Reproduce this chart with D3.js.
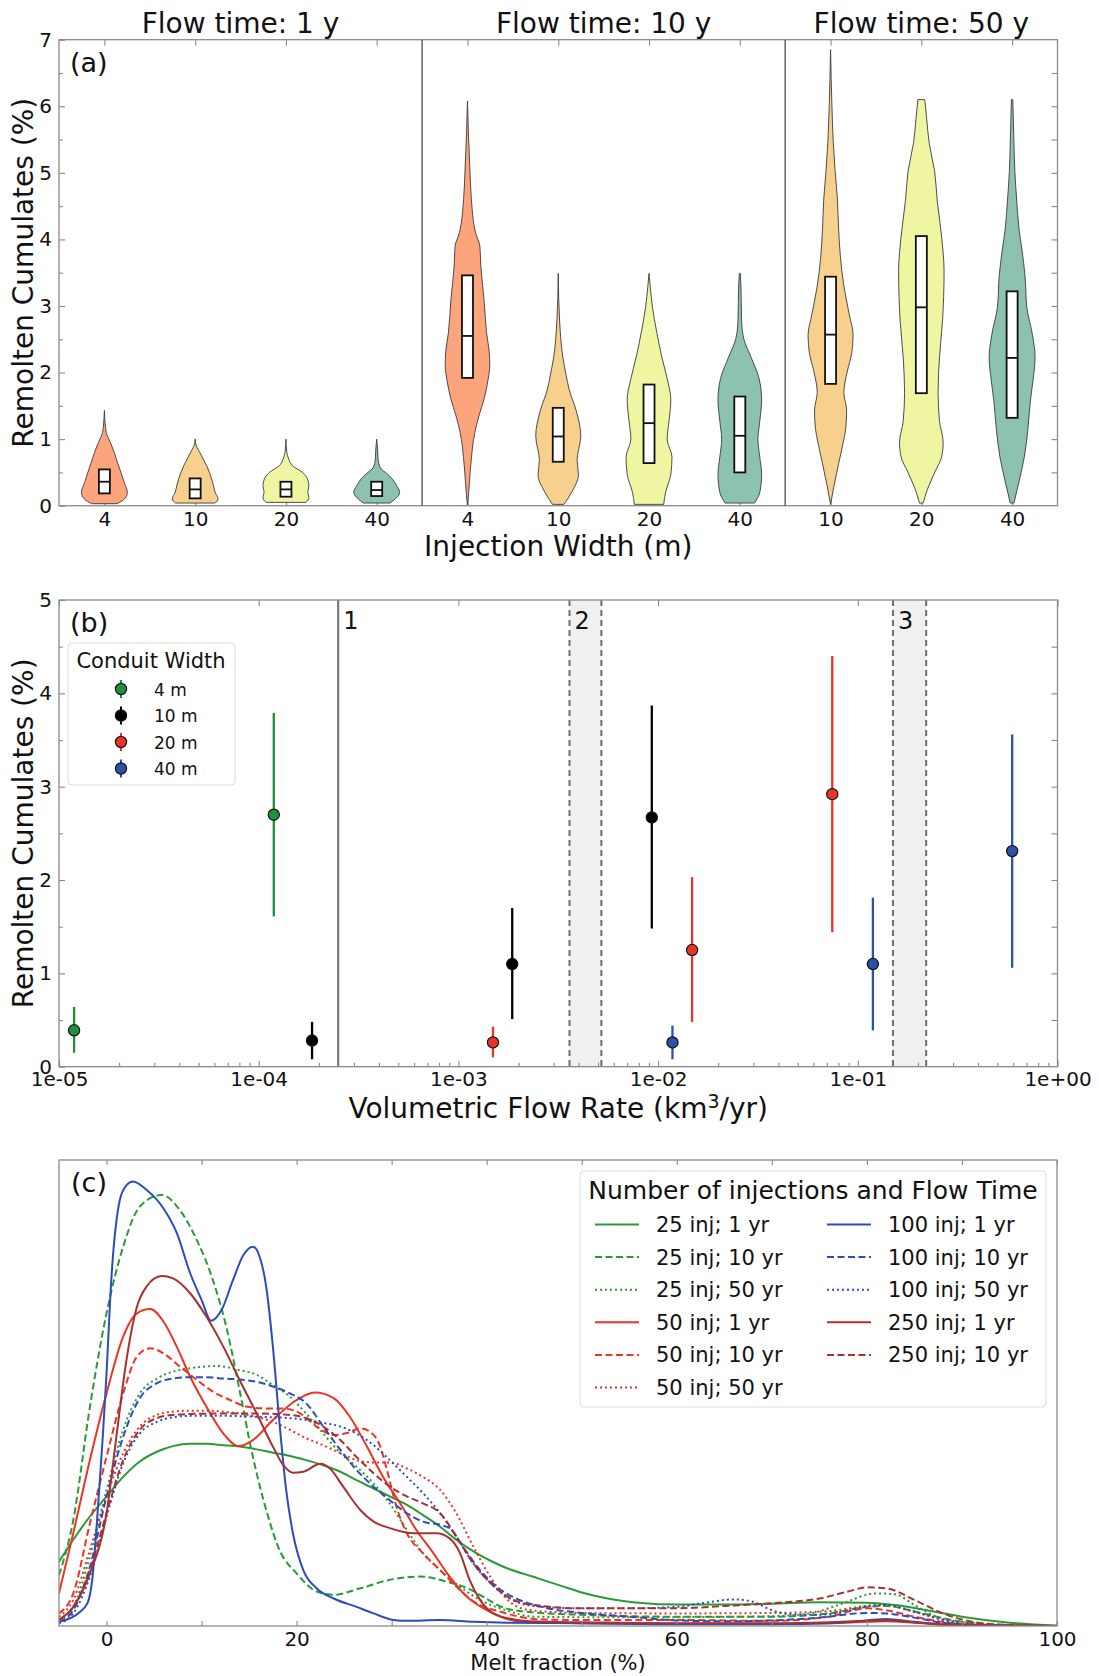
<!DOCTYPE html>
<meta charset="utf-8">
<head>
<style>
body { margin: 0; background: #fff; }
text { font-family: "DejaVu Sans", sans-serif; }
</style>
</head>
<body>
<div id="chart"></div>
<script src="https://d3js.org/d3.v7.min.js"></script>
<script>

// ---------- panel (a) data : violin outlines [value, relative half width] ----------
const flowTitles = ["Flow time: 1 y", "Flow time: 10 y", "Flow time: 50 y"];
const injWidths = [4, 10, 20, 40, 4, 10, 20, 40, 10, 20, 40];

const v1y_4  = [[0.03,0.55],[0.1,0.87],[0.2,1.0],[0.35,0.86],[0.5,0.72],[0.65,0.57],[0.8,0.43],[0.95,0.26],[1.1,0.08],[1.25,0.03],[1.43,0]];
const v1y_10 = [[0.04,0.85],[0.1,1.0],[0.2,0.87],[0.3,0.8],[0.4,0.72],[0.5,0.62],[0.6,0.5],[0.7,0.35],[0.8,0.2],[0.85,0.12],[0.9,0.05],[1.0,0]];
const v1y_20 = [[0.05,0.87],[0.12,1.0],[0.2,0.95],[0.3,1.0],[0.4,0.94],[0.5,0.72],[0.6,0.29],[0.7,0.12],[0.8,0.04],[1.0,0]];
const v1y_40 = [[0.04,0.58],[0.1,0.8],[0.2,1.0],[0.3,0.87],[0.4,0.68],[0.45,0.55],[0.5,0.38],[0.55,0.2],[0.6,0.12],[0.7,0.06],[0.85,0.04],[1.0,0]];
const v10y_4  = [[0,0],[0.1,0.03],[0.6,0.14],[1.1,0.32],[1.35,0.5],[1.6,0.72],[1.9,0.9],[2.1,0.97],[2.3,0.95],[2.6,0.83],[3.1,0.72],[3.6,0.58],[3.9,0.54],[4.1,0.35],[4.6,0.17],[5.1,0.1],[5.6,0.04],[6.08,0]];
const v10y_10 = [[0.02,0.25],[0.2,0.58],[0.47,0.88],[0.68,0.82],[1.05,0.98],[1.43,0.78],[1.75,0.47],[1.95,0.35],[2.23,0.2],[2.77,0.06],[3.49,0]];
const v10y_20 = [[0.02,0.64],[0.2,0.72],[0.47,0.95],[0.73,1.0],[1.0,0.79],[1.27,0.87],[1.59,0.95],[1.91,0.79],[2.23,0.56],[2.6,0.34],[2.98,0.15],[3.3,0.05],[3.49,0]];
const v10y_40 = [[0.04,0.64],[0.2,0.87],[0.47,0.95],[0.73,0.87],[1.0,0.79],[1.27,0.87],[1.59,0.95],[1.91,0.84],[2.23,0.49],[2.5,0.18],[2.77,0.08],[3.3,0.05],[3.49,0.02]];
const v50y_10 = [[0.02,0],[0.3,0.15],[0.63,0.35],[0.95,0.55],[1.16,0.66],[1.43,0.7],[1.7,0.58],[2.02,0.73],[2.29,0.92],[2.56,0.98],[2.88,0.81],[3.3,0.58],[3.73,0.43],[4.16,0.35],[4.59,0.3],[5.02,0.2],[5.45,0.12],[5.99,0.06],[6.85,0]];
const v50y_20 = [[0.04,0.08],[0.25,0.27],[0.52,0.61],[0.73,0.88],[0.95,0.95],[1.27,0.79],[1.7,0.73],[2.23,0.79],[2.77,0.92],[3.52,0.99],[4.05,0.88],[4.59,0.69],[5.02,0.58],[5.45,0.34],[5.82,0.23],[6.1,0.15]];
const v50y_40 = [[0.04,0.08],[0.36,0.3],[0.73,0.53],[1.16,0.69],[1.59,0.8],[1.91,0.92],[2.23,1.0],[2.56,0.89],[2.98,0.64],[3.46,0.56],[3.84,0.43],[4.16,0.3],[4.59,0.2],[5.02,0.12],[5.45,0.08],[6.1,0.03]];

// [q1, median, q3]
const boxQ = [[0.185,0.36,0.545],[0.11,0.245,0.41],[0.135,0.245,0.36],[0.145,0.235,0.36],
              [1.92,2.55,3.46],[0.66,1.04,1.47],[0.64,1.24,1.82],[0.50,1.05,1.64],
              [1.83,2.57,3.44],[1.69,2.98,4.05],[1.32,2.22,3.22]];

// ---------- panel (b) data ----------
const conduitLabels = ["4 m", "10 m", "20 m", "40 m"];
const rate4  = [1.19e-5, 1.19e-4];           const mid4  = [0.39, 2.70];        const lo4  = [0.15, 1.61];        const hi4  = [0.64, 3.79];
const rate10 = [1.85e-4, 1.86e-3, 9.3e-3];   const mid10 = [0.28, 1.10, 2.67];  const lo10 = [0.08, 0.51, 1.48];  const hi10 = [0.48, 1.70, 3.87];
const rate20 = [1.49e-3, 1.48e-2, 7.45e-2];  const mid20 = [0.26, 1.25, 2.92];  const lo20 = [0.10, 0.48, 1.44];  const hi20 = [0.43, 2.03, 4.40];
const rate40 = [1.18e-2, 0.119, 0.593];      const mid40 = [0.26, 1.10, 2.31];  const lo40 = [0.08, 0.39, 1.06];  const hi40 = [0.44, 1.81, 3.56];
const regimeLine = 2.5e-4;
const regimeBands = [[3.6e-3, 5.2e-3], [0.15, 0.22]];
const regimeLabels = ["1", "2", "3"];

// ---------- panel (c) data : density curves [melt %, density] ----------
const k25_1 = [[-5,.138],[-3.5,.185],[-1.75,.235],[0,.278],[1.75,.32],[3.5,.353],[5.3,.374],[7,.386],[8.8,.391],[10.5,.391],[12.3,.388],[14,.385],[15.8,.379],[17.5,.372],[19.3,.365],[21,.356],[22.8,.345],[24.6,.331],[26.3,.313],[28.1,.295],[29.8,.278],[31.6,.26],[33.3,.238],[35.1,.213],[36.8,.185],[38.6,.16],[40.4,.14],[42,.125],[45,.105],[48,.085],[50,.072],[53,.058],[56,.05],[60,.046],[65,.046],[70,.048],[75,.051],[80,.05],[83,.045],[86,.035],[90,.02],[95,.007],[100,.001]];
const k25_10 = [[-5,.109],[-3.5,.227],[-1.75,.47],[0,.671],[1.75,.814],[3.5,.90],[5.8,.925],[7.7,.893],[9.5,.828],[11.2,.742],[12.6,.642],[14,.506],[15.4,.363],[16.8,.249],[18.2,.163],[20,.113],[22.1,.074],[23.9,.067],[26.7,.081],[29.8,.099],[33,.106],[35.8,.095],[38.6,.075],[40,.058],[42,.038],[45,.029],[50,.024],[60,.02],[70,.02],[76,.027],[80,.041],[82,.043],[85,.031],[90,.009],[95,.002],[100,0]];
const k25_50 = [[-5,.013],[-3.5,.041],[-1.75,.149],[0,.292],[1.75,.421],[3.5,.499],[5.3,.531],[7,.546],[8.8,.553],[11.6,.558],[14,.549],[15.8,.539],[17.5,.517],[19.3,.492],[21,.456],[22.8,.413],[24.6,.371],[26.3,.342],[28.1,.306],[29.8,.263],[31.6,.206],[33.3,.156],[35.1,.12],[37.2,.084],[39.3,.056],[42,.034],[45,.02],[50,.019],[60,.019],[70,.021],[74,.027],[77,.045],[81,.07],[83,.068],[85,.045],[88,.015],[90,.009],[95,.002],[100,0]];
const k50_1 = [[-5,.07],[-3.5,.199],[-1.75,.356],[0,.499],[1.75,.621],[3.2,.671],[4.6,.68],[6,.653],[7.4,.599],[8.8,.535],[10.5,.471],[12.3,.413],[13.9,.386],[15.4,.399],[17.5,.442],[20,.485],[21.9,.501],[23.9,.489],[25.6,.449],[27.4,.385],[29.1,.32],[30.9,.263],[32.6,.206],[34.4,.156],[36.1,.106],[37.9,.063],[40,.034],[42,.016],[45,.007],[50,.006],[60,.005],[70,.005],[76,.006],[80,.009],[82,.01],[85,.007],[88,.003],[92,.001],[100,0]];
const k50_10 = [[-5,.027],[-3.5,.07],[-1.75,.22],[0,.363],[1.75,.499],[3.2,.578],[4.6,.596],[6,.585],[7.7,.557],[9.5,.528],[11.2,.503],[13,.485],[14.7,.471],[16.5,.467],[18.6,.467],[20.4,.456],[22.1,.428],[23.9,.41],[25.3,.414],[26.7,.424],[27.7,.417],[28.8,.385],[29.5,.335],[30.5,.256],[31.6,.199],[33.3,.156],[35.1,.12],[37.2,.077],[38.9,.049],[41.4,.031],[43.5,.02],[46,.014],[50,.013],[60,.013],[70,.011],[76,.02],[80,.038],[82,.034],[85,.02],[90,.004],[95,.001],[100,0]];
const k50_50 = [[-5,.02],[-3.5,.056],[-1.75,.163],[0,.278],[1.75,.371],[3.5,.428],[5.3,.453],[7,.46],[8.8,.462],[10.5,.462],[12.3,.46],[14,.456],[15.8,.449],[17.5,.438],[19.3,.421],[21,.403],[22.8,.388],[24.6,.371],[26.3,.356],[28.1,.351],[29.8,.351],[31.6,.338],[33.3,.32],[35.1,.292],[36.8,.242],[38.6,.17],[40.4,.105],[42,.06],[44,.036],[47,.03],[50,.028],[60,.027],[70,.028],[76,.032],[80,.043],[82,.045],[85,.03],[90,.006],[95,.001],[100,0]];
const k100_1 = [[-5,.009],[-3,.027],[-2,.049],[-1.5,.1],[-0.9,.255],[0,.542],[0.5,.742],[1.4,.914],[2.1,.946],[2.8,.954],[4.2,.936],[6,.896],[7.4,.843],[8.8,.757],[10,.70],[11,.655],[12.1,.678],[13.3,.742],[14.4,.796],[15.4,.814],[16.1,.793],[16.8,.728],[17.5,.60],[18.2,.435],[18.9,.292],[19.6,.20],[20.7,.12],[22.1,.081],[23.9,.059],[26.3,.041],[28.1,.027],[30.2,.013],[31.6,.011],[35,.013],[38.6,.009],[42,.007],[50,.006],[60,.004],[70,.004],[76,.006],[80,.012],[82,.015],[85,.009],[88,.003],[92,.001],[100,0]];
const k100_10 = [[-5,.009],[-3.5,.034],[-1.75,.127],[0,.278],[1.75,.406],[3.5,.489],[5.3,.521],[7,.531],[8.8,.534],[10.5,.534],[12.3,.531],[14,.529],[15.8,.524],[17.5,.514],[19.3,.499],[21,.478],[22.8,.428],[24.6,.378],[26.3,.335],[28.1,.299],[29.8,.27],[31.6,.242],[33.3,.224],[35.1,.217],[36.1,.21],[37.5,.17],[39.3,.12],[41,.085],[43,.06],[46,.04],[50,.028],[55,.02],[60,.012],[65,.01],[70,.012],[75,.018],[80,.028],[82,.027],[85,.018],[88,.007],[92,.002],[100,0]];
const k100_50 = [[-5,.006],[-3.5,.027],[-1.75,.106],[0,.235],[1.75,.349],[3.5,.413],[5.3,.438],[7,.448],[8.8,.451],[12.3,.451],[15.8,.449],[19.3,.446],[21,.442],[22.8,.436],[24.6,.428],[26.3,.413],[28.1,.388],[29.8,.356],[31.6,.32],[33.3,.285],[35.1,.242],[36.8,.192],[38.6,.134],[40.4,.092],[42.8,.055],[45,.043],[50,.038],[55,.038],[60,.041],[63,.05],[66,.057],[68,.052],[70,.034],[72,.025],[75,.024],[78,.033],[80,.043],[82,.045],[85,.031],[88,.013],[92,.002],[100,0]];
const k250_1 = [[-5,.013],[-3.5,.041],[-1.75,.113],[0,.242],[1,.40],[2.1,.571],[3.2,.685],[4.2,.728],[5.8,.751],[7,.746],[8.8,.714],[10.5,.664],[12.3,.599],[14,.528],[15.8,.456],[17.5,.385],[18.6,.345],[19.6,.329],[20.7,.331],[22.5,.348],[23.5,.338],[24.9,.299],[26.7,.249],[28.1,.224],[29.8,.21],[32.3,.199],[34.7,.199],[36.1,.188],[37.2,.156],[38.2,.099],[39.3,.056],[40.7,.027],[43.2,.013],[46,.009],[50,.008],[60,.006],[70,.006],[76,.008],[80,.011],[82,.012],[85,.008],[88,.003],[92,.001],[100,0]];
const k250_10 = [[-5,.013],[-3.5,.041],[-1.75,.12],[0,.242],[1.75,.356],[3.5,.421],[5.3,.446],[7,.453],[8.8,.455],[12.3,.456],[15.8,.456],[19.3,.453],[21,.446],[22.8,.428],[24.6,.399],[26.3,.363],[28.1,.328],[29.8,.299],[31.6,.278],[33.3,.263],[35.1,.242],[36.8,.192],[38.6,.134],[40.4,.092],[42.8,.056],[45,.045],[50,.038],[55,.038],[60,.038],[65,.043],[70,.049],[75,.059],[78,.074],[80,.083],[82,.081],[85,.056],[88,.027],[92,.006],[96,.001],[100,0]];
const meltLabels = ["25 inj; 1 yr","25 inj; 10 yr","25 inj; 50 yr","50 inj; 1 yr","50 inj; 10 yr","50 inj; 50 yr",
                    "100 inj; 1 yr","100 inj; 10 yr","100 inj; 50 yr","250 inj; 1 yr","250 inj; 10 yr"];

// ---------- styles ----------
const W = 1099, H = 1676;
const spineCol = "#8a8a8a";
const violinCol = {4: "#fca47b", 10: "#f8d08e", 20: "#eff5a1", 40: "#8cc2ae"};
const cGreen = "#2a9a36", cRed = "#ee3226", cBlue = "#2c4cbd", cBrown = "#a8302e";
const ptCol = ["#1f8f3a", "#000000", "#e8352b", "#2c52a8"];
const dashes = {solid: null, dashed: "7,3.5", dotted: "2,3"};
const intFmt = d3.format("d");

const svg = d3.select("#chart").append("svg")
    .attr("width", W).attr("height", H)
    .attr("font-family", "DejaVu Sans, sans-serif");

function styleAxis(g, fs) {
    g.select(".domain").remove();
    g.attr("font-family", "DejaVu Sans, sans-serif").attr("font-size", fs).attr("color", spineCol);
    g.selectAll(".tick line").attr("stroke-width", 1.1);
    g.selectAll("text").attr("fill", "#111");
}

// ================= panel (a) =================
const xA = d3.scaleLinear().domain([-0.5, 10.5]).range([59, 1057.5]);
const yA = d3.scaleLinear().domain([0, 7]).range([505.7, 39.7]);
const halfW = (xA(1) - xA(0)) * 0.253;

svg.append("g").attr("transform", `translate(0,${yA(0)})`)
    .call(d3.axisBottom(xA).tickValues(d3.range(11)).tickFormat(i => injWidths[i]).tickSize(-6).tickPadding(6))
    .call(g => styleAxis(g, 20));

const violins = [v1y_4, v1y_10, v1y_20, v1y_40, v10y_4, v10y_10, v10y_20, v10y_40, v50y_10, v50y_20, v50y_40];
violins.forEach((prof, i) => {
    const cx = xA(i);
    const area = d3.area()
        .y(d => yA(d[0]))
        .x0(d => cx - d[1] * halfW)
        .x1(d => cx + d[1] * halfW)
        .curve(d3.curveMonotoneY);
    svg.append("path").attr("d", area(prof))
        .attr("fill", violinCol[injWidths[i]])
        .attr("stroke", "#3a3a3a").attr("stroke-width", 0.9);
    const q = boxQ[i];
    svg.append("rect")
        .attr("x", cx - 5.5).attr("y", yA(q[2]))
        .attr("width", 11).attr("height", yA(q[0]) - yA(q[2]))
        .attr("fill", "#fff").attr("stroke", "#111").attr("stroke-width", 1.8);
    svg.append("line")
        .attr("x1", cx - 5.5).attr("x2", cx + 5.5)
        .attr("y1", yA(q[1])).attr("y2", yA(q[1]))
        .attr("stroke", "#111").attr("stroke-width", 1.8);
});

svg.append("rect").attr("x", xA(-0.5)).attr("y", yA(7))
    .attr("width", xA(10.5) - xA(-0.5)).attr("height", yA(0) - yA(7))
    .attr("fill", "none").attr("stroke", spineCol).attr("stroke-width", 1.3);
[3.5, 7.5].forEach(d => {
    svg.append("line").attr("x1", xA(d)).attr("x2", xA(d))
        .attr("y1", yA(7)).attr("y2", yA(0))
        .attr("stroke", "#4a4a4a").attr("stroke-width", 1.3);
});

svg.append("g").attr("transform", `translate(0,${yA(7)})`)
    .call(d3.axisTop(xA).tickValues(d3.range(11)).tickFormat("").tickSize(-6))
    .call(g => styleAxis(g, 20));
svg.append("g").attr("transform", `translate(${xA(-0.5)},0)`)
    .call(d3.axisLeft(yA).tickValues(d3.range(0, 8)).tickFormat(intFmt).tickSize(-6).tickPadding(7))
    .call(g => styleAxis(g, 20));
svg.append("g").attr("transform", `translate(${xA(-0.5)},0)`)
    .call(d3.axisLeft(yA).tickValues(d3.range(0.5, 7, 1)).tickSize(-4).tickFormat(""))
    .call(g => styleAxis(g, 20));
svg.append("g").attr("transform", `translate(${xA(10.5)},0)`)
    .call(d3.axisRight(yA).tickValues(d3.range(0.5, 7, 0.5)).tickSize(-6).tickFormat(""))
    .call(g => styleAxis(g, 20));

[1.5, 5.5, 9].forEach((c, i) => {
    svg.append("text").attr("x", xA(c)).attr("y", 33)
        .attr("text-anchor", "middle").attr("font-size", 28).attr("fill", "#111")
        .text(flowTitles[i]);
});
svg.append("text").attr("x", 70).attr("y", 72).attr("font-size", 27).attr("fill", "#111").text("(a)");
svg.append("text").attr("x", (xA(-0.5) + xA(10.5)) / 2).attr("y", 556)
    .attr("text-anchor", "middle").attr("font-size", 28).attr("fill", "#111")
    .text("Injection Width (m)");
svg.append("text").attr("transform", `translate(33,${(yA(0) + yA(7)) / 2}) rotate(-90)`)
    .attr("text-anchor", "middle").attr("font-size", 28).attr("fill", "#111")
    .text("Remolten Cumulates (%)");

// ================= panel (b) =================
const xB = d3.scaleLog().domain([1e-5, 1]).range([59, 1057.5]);
const yB = d3.scaleLinear().domain([0, 5]).range([1066.7, 600]);

regimeBands.forEach(b => {
    svg.append("rect").attr("x", xB(b[0])).attr("y", yB(5))
        .attr("width", xB(b[1]) - xB(b[0])).attr("height", yB(0) - yB(5))
        .attr("fill", "#f0f0f0");
    b.forEach(v => svg.append("line")
        .attr("x1", xB(v)).attr("x2", xB(v)).attr("y1", yB(5)).attr("y2", yB(0))
        .attr("stroke", "#6e6e6e").attr("stroke-width", 2).attr("stroke-dasharray", "6,4"));
});
svg.append("line").attr("x1", xB(regimeLine)).attr("x2", xB(regimeLine))
    .attr("y1", yB(5)).attr("y2", yB(0))
    .attr("stroke", "#7a7a7a").attr("stroke-width", 2.2);
[regimeLine, regimeBands[0][0], regimeBands[1][0]].forEach((v, i) => {
    svg.append("text").attr("x", xB(v) + 5).attr("y", 629)
        .attr("font-size", 24).attr("fill", "#111").text(regimeLabels[i]);
});

svg.append("rect").attr("x", xB(1e-5)).attr("y", yB(5))
    .attr("width", xB(1) - xB(1e-5)).attr("height", yB(0) - yB(5))
    .attr("fill", "none").attr("stroke", spineCol).attr("stroke-width", 1.3);

const expFmt = v => {
    const e = Math.round(Math.log10(v));
    return "1e" + (e < 0 ? "-" : "+") + String(Math.abs(e)).padStart(2, "0");
};
const decades = [1e-5, 1e-4, 1e-3, 1e-2, 1e-1, 1];
const minorLog = [];
decades.slice(0, 5).forEach(d => { for (let k = 2; k <= 9; k++) minorLog.push(k * d); });

svg.append("g").attr("transform", `translate(0,${yB(0)})`)
    .call(d3.axisBottom(xB).tickValues(decades).tickFormat(expFmt).tickSize(-6).tickPadding(5))
    .call(g => styleAxis(g, 20));
svg.append("g").attr("transform", `translate(0,${yB(0)})`)
    .call(d3.axisBottom(xB).tickValues(minorLog).tickFormat("").tickSize(-4))
    .call(g => styleAxis(g, 20));
svg.append("g").attr("transform", `translate(0,${yB(5)})`)
    .call(d3.axisTop(xB).tickValues(decades).tickFormat("").tickSize(-6))
    .call(g => styleAxis(g, 20));
svg.append("g").attr("transform", `translate(${xB(1e-5)},0)`)
    .call(d3.axisLeft(yB).tickValues(d3.range(0, 6)).tickFormat(intFmt).tickSize(-6).tickPadding(7))
    .call(g => styleAxis(g, 20));
svg.append("g").attr("transform", `translate(${xB(1e-5)},0)`)
    .call(d3.axisLeft(yB).tickValues(d3.range(0.5, 5, 1)).tickSize(-4).tickFormat(""))
    .call(g => styleAxis(g, 20));
svg.append("g").attr("transform", `translate(${xB(1)},0)`)
    .call(d3.axisRight(yB).tickValues(d3.range(0.5, 5, 0.5)).tickSize(-6).tickFormat(""))
    .call(g => styleAxis(g, 20));

const groupsB = [[rate4, mid4, lo4, hi4], [rate10, mid10, lo10, hi10], [rate20, mid20, lo20, hi20], [rate40, mid40, lo40, hi40]];
groupsB.forEach((grp, gi) => {
    const [r, m, lo, hi] = grp;
    r.forEach((x, j) => {
        svg.append("line").attr("x1", xB(x)).attr("x2", xB(x))
            .attr("y1", yB(lo[j])).attr("y2", yB(hi[j]))
            .attr("stroke", ptCol[gi]).attr("stroke-width", 2.3);
    });
    r.forEach((x, j) => {
        svg.append("circle").attr("cx", xB(x)).attr("cy", yB(m[j])).attr("r", 5.6)
            .attr("fill", ptCol[gi]).attr("stroke", "#111").attr("stroke-width", 1.2);
    });
});

// legend (b)
const legB = svg.append("g");
legB.append("rect").attr("x", 68).attr("y", 643).attr("width", 167).attr("height", 142)
    .attr("rx", 4).attr("fill", "#fff").attr("fill-opacity", 0.85)
    .attr("stroke", "#dcdcdc").attr("stroke-width", 1);
legB.append("text").attr("x", 151).attr("y", 668).attr("text-anchor", "middle")
    .attr("font-size", 21).attr("fill", "#111").text("Conduit Width");
conduitLabels.forEach((lab, i) => {
    const cy = 689 + i * 26.5;
    legB.append("line").attr("x1", 121).attr("x2", 121).attr("y1", cy - 9).attr("y2", cy + 9)
        .attr("stroke", ptCol[i]).attr("stroke-width", 2);
    legB.append("circle").attr("cx", 121).attr("cy", cy).attr("r", 5.6)
        .attr("fill", ptCol[i]).attr("stroke", "#111").attr("stroke-width", 1.2);
    legB.append("text").attr("x", 154).attr("y", cy + 6.5)
        .attr("font-size", 17).attr("fill", "#111").text(lab);
});

svg.append("text").attr("x", 70).attr("y", 632).attr("font-size", 27).attr("fill", "#111").text("(b)");
svg.append("text").attr("x", (xB(1e-5) + xB(1)) / 2).attr("y", 1118)
    .attr("text-anchor", "middle").attr("font-size", 28).attr("fill", "#111")
    .call(t => {
        t.append("tspan").text("Volumetric Flow Rate (km");
        t.append("tspan").attr("font-size", 19).attr("dy", -10).text("3");
        t.append("tspan").attr("dy", 10).text("/yr)");
    });
svg.append("text").attr("transform", `translate(33,${(yB(0) + yB(5)) / 2}) rotate(-90)`)
    .attr("text-anchor", "middle").attr("font-size", 28).attr("fill", "#111")
    .text("Remolten Cumulates (%)");

// ================= panel (c) =================
const xC = d3.scaleLinear().domain([-5, 100]).range([59, 1057]);
const yC = d3.scaleLinear().domain([0, 1]).range([1626, 1160]);

svg.append("defs").append("clipPath").attr("id", "clipC")
    .append("rect").attr("x", xC(-5)).attr("y", yC(1))
    .attr("width", xC(100) - xC(-5)).attr("height", yC(0) - yC(1));

const meltData = [k25_1, k25_10, k25_50, k50_1, k50_10, k50_50, k100_1, k100_10, k100_50, k250_1, k250_10];
const meltColor = [cGreen, cGreen, cGreen, cRed, cRed, cRed, cBlue, cBlue, cBlue, cBrown, cBrown];
const meltDash = ["solid", "dashed", "dotted", "solid", "dashed", "dotted", "solid", "dashed", "dotted", "solid", "dashed"];

const lineC = d3.line().x(d => xC(d[0])).y(d => yC(d[1])).curve(d3.curveMonotoneX);
const gC = svg.append("g").attr("clip-path", "url(#clipC)");
meltData.forEach((pts, i) => {
    gC.append("path").attr("d", lineC(pts))
        .attr("fill", "none").attr("stroke", meltColor[i]).attr("stroke-width", 2)
        .attr("stroke-dasharray", dashes[meltDash[i]]);
});

svg.append("rect").attr("x", xC(-5)).attr("y", yC(1))
    .attr("width", xC(100) - xC(-5)).attr("height", yC(0) - yC(1))
    .attr("fill", "none").attr("stroke", spineCol).attr("stroke-width", 1.3);

svg.append("g").attr("transform", `translate(0,${yC(0)})`)
    .call(d3.axisBottom(xC).tickValues(d3.range(0, 101, 10)).tickFormat(v => v % 20 === 0 ? v : "")
        .tickSize(-5).tickPadding(6))
    .call(g => styleAxis(g, 20));
svg.append("g").attr("transform", `translate(0,${yC(1)})`)
    .call(d3.axisTop(xC).tickValues(d3.range(0, 101, 10)).tickFormat("").tickSize(-5))
    .call(g => styleAxis(g, 20));

svg.append("text").attr("x", 71).attr("y", 1192).attr("font-size", 27).attr("fill", "#111").text("(c)");
svg.append("text").attr("x", (xC(-5) + xC(100)) / 2).attr("y", 1670)
    .attr("text-anchor", "middle").attr("font-size", 21).attr("fill", "#111")
    .text("Melt fraction (%)");

// legend (c)
const legC = svg.append("g");
legC.append("rect").attr("x", 580).attr("y", 1171).attr("width", 466).attr("height", 236)
    .attr("rx", 4).attr("fill", "#fff").attr("fill-opacity", 0.85)
    .attr("stroke", "#dcdcdc").attr("stroke-width", 1);
legC.append("text").attr("x", 813).attr("y", 1199).attr("text-anchor", "middle")
    .attr("font-size", 25).attr("fill", "#111").text("Number of injections and Flow Time");
meltLabels.forEach((lab, i) => {
    const col = i < 6 ? 0 : 1;
    const row = i < 6 ? i : i - 6;
    const cy = 1224.5 + row * 32.6;
    const lx = col === 0 ? 595 : 827;
    legC.append("line").attr("x1", lx).attr("x2", lx + 44).attr("y1", cy).attr("y2", cy)
        .attr("stroke", meltColor[i]).attr("stroke-width", 2)
        .attr("stroke-dasharray", dashes[meltDash[i]]);
    legC.append("text").attr("x", lx + 61).attr("y", cy + 7.5)
        .attr("font-size", 21).attr("fill", "#111").text(lab);
});

</script>
</body>
</html>
